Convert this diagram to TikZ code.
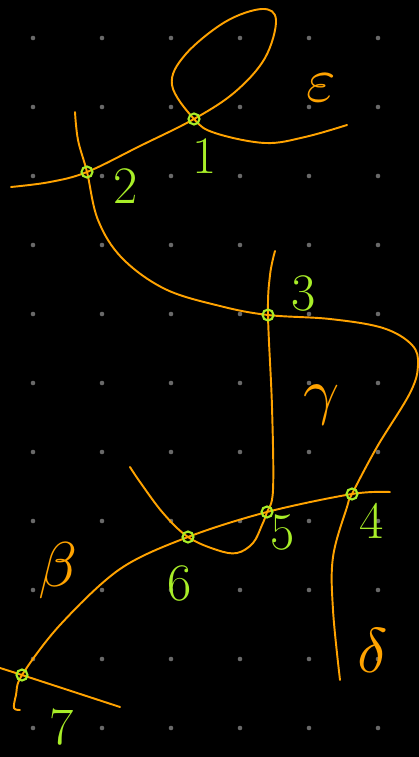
\documentclass[tikz,border=0pt]{standalone}
\usepackage{tikz}
\usepackage{amsmath}
\usepackage{unicode-math}
\definecolor{inkorange}{RGB}{255,163,0}
\definecolor{inkgreen}{RGB}{168,238,40}
\definecolor{dotgrey}{RGB}{105,105,105}

\begin{document}
\begin{tikzpicture}[x=0.02cm, y=-0.02cm,
        curve/.style={inkorange, line width=1.1pt, line cap=round},
        crossing/.style={circle, draw=inkgreen, line width=1.2pt, inner sep=0pt, minimum size=0.22cm},
        num/.style={text=inkgreen, font=\fontsize{30}{30}\selectfont},
        greek/.style={text=inkorange, font=\fontsize{36}{36}\selectfont}]
        \fill[black] (0,0) rectangle (419,757);
        \useasboundingbox (0,0) rectangle (419,757);
        % This draws the dot grid.
            \foreach \i in {0,...,5}
                \foreach \j in {0,...,10}
                    \fill[dotgrey] (33+69*\i, 38+69*\j) circle (1.3pt);
        % Below nodes are the crossing points.
            \coordinate (c1) at (194,119);
            \coordinate (c2) at (87,172);
            \coordinate (c3) at (268,315);
            \coordinate (c4) at (352,494);
            \coordinate (c5) at (267,512);
            \coordinate (c6) at (188,537);
            \coordinate (c7) at (22,675);
        % The curves.
            \draw[curve] plot[smooth, tension=0.6] coordinates {(11,187) (50,182) (c2) (140,146) (c1) (235,92) (265,58) (276,20) (262,9) (225,22) (185,55) (172,85) (c1) (215,133) (265,143) (305,137) (347,125)};
            \draw[curve] plot[smooth, tension=0.6] coordinates {(75,112) (78,140) (c2) (98,220) (122,258) (165,289) (220,306) (c3) (330,319) (383,328) (412,345) (418,365) (410,393) (377,447) (c4) (347,507) (333,557) (333,610) (340,680)};
            \draw[curve] plot[smooth, tension=0.6] coordinates {(275,251) (270,275) (c3) (272,407) (273,490) (c5) (262,525) (253,543) (237,553) (217,550) (c6) (163,513) (140,482) (130,467)};
            \draw[curve] plot[smooth, tension=0.55] coordinates {(390,492) (c4) (c5) (c6) (120,569) (60,625) (c7) (16,695) (14,708) (20,710)};
            \draw[curve] plot[smooth] coordinates {(0,668) (c7) (120,707)};
            \foreach \c in {c1,c2,c3,c4,c5,c6,c7}
                \node[crossing] at (\c) {};
        % Below nodes are the labels.
            \node[num] (n1) at (205,156) {1};
            \node[num] (n2) at (126,186) {2};
            \node[num] (n3) at (304,293) {3};
            \node[num] (n4) at (372,521) {4};
            \node[num] (n5) at (283,533) {5};
            \node[num] (n6) at (180,583) {6};
            \node[num] (n7) at (62,727) {7};
            \node[greek] (eps) at (321,88) {$\varepsilon$};
            \node[greek] (gam) at (322,405) {$\gamma$};
            \node[greek] (bet) at (58,570) {$\beta$};
            \node[greek] (del) at (373,650) {$\delta$};
    \end{tikzpicture}
\end{document}
